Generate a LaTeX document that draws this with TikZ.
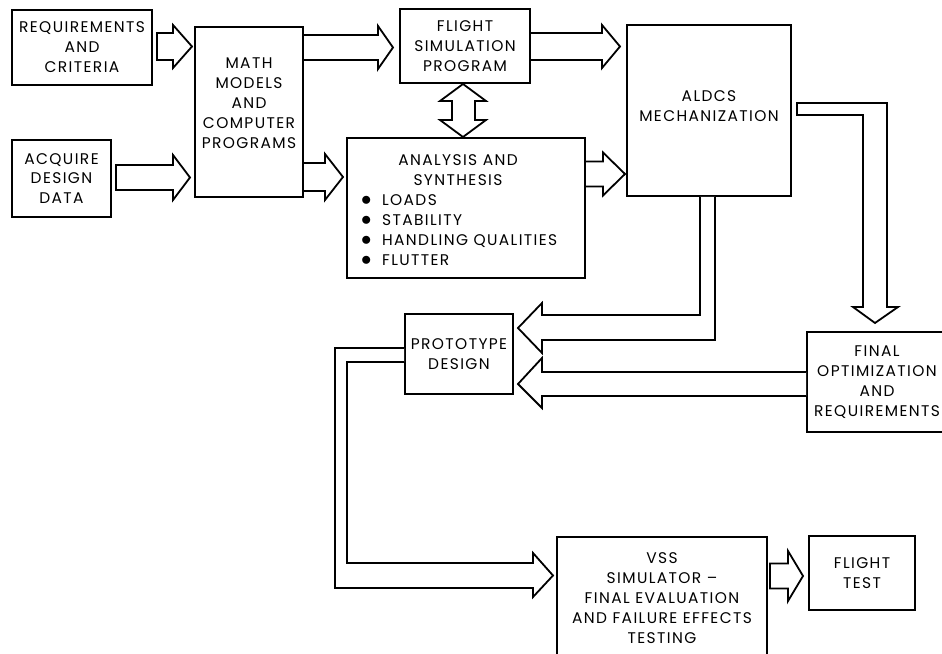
\documentclass[tikz,border=0pt]{standalone}
\usepackage{fontspec}
\setmainfont{Poppins}[LetterSpace=9]
\usetikzlibrary{calc}
\tikzset{
  box/.style={draw, line width=1.8bp, rectangle, inner sep=0pt},
  lbl/.style={align=center, font=\fontsize{15.5}{20}\selectfont, inner sep=0pt},
  blk/.style={draw, line width=1.8bp, line join=miter, fill=white},
}
\newcommand\bul{\smash{\scalebox{1.45}{$\bullet$}}\hspace{10.5bp}}
% right-pointing block arrow: tail x, tip x, centre y, body half, head half, head length
\newcommand\rarr[6]{%
  \draw[blk] (#1,#3-#4) -- (#2-#6,#3-#4) -- (#2-#6,#3-#5) -- (#2,#3)
    -- (#2-#6,#3+#5) -- (#2-#6,#3+#4) -- (#1,#3+#4) -- cycle;}
\begin{document}
\begin{tikzpicture}[x=1bp,y=-1bp]
\useasboundingbox (0,0) rectangle (942,654);

% boxes
\node[box,lbl,minimum width=140bp,minimum height=75bp] (req) at (82,47.5) {REQUIREMENTS\\AND\\CRITERIA};
\node[box,lbl,minimum width=99bp,minimum height=77bp] (acq) at (61.5,178.5) {ACQUIRE\\DESIGN\\DATA};
\node[box,minimum width=108bp,minimum height=170bp] (math) at (249,112) {};
\node[lbl] (mathtxt) at (249,103) {MATH\\MODELS\\AND\\COMPUTER\\PROGRAMS};
\node[box,lbl,minimum width=130bp,minimum height=74bp] (fs) at (465,46) {FLIGHT\\SIMULATION\\PROGRAM};
\node[box,minimum width=238bp,minimum height=140bp] (an) at (466,208) {};
\node[lbl] (antitle) at (458,170) {ANALYSIS AND\\SYNTHESIS};
\node[lbl,align=left,anchor=west] (anlist) at (361,230) {\bul LOADS\\\bul STABILITY\\\bul HANDLING QUALITIES\\\bul FLUTTER};
\node[box,minimum width=164bp,minimum height=171bp] (aldcs) at (709,110.5) {};
\node[lbl] (aldcstxt) at (709,106) {ALDCS\\MECHANIZATION};
\node[box,lbl,minimum width=108bp,minimum height=80bp] (proto) at (459,354) {PROTOTYPE\\DESIGN};
\node[box,lbl,minimum width=140bp,minimum height=100bp] (final) at (877,382) {FINAL\\OPTIMIZATION\\AND\\REQUIREMENTS};
\node[box,minimum width=210bp,minimum height=123bp] (vss) at (662,598.5) {};
\node[lbl] (vsstxt) at (662,598) {VSS\\SIMULATOR --\\FINAL EVALUATION\\AND FAILURE EFFECTS\\TESTING};
\node[box,lbl,minimum width=106bp,minimum height=74bp] (ft) at (862,573) {FLIGHT\\TEST};

% straight block arrows
\rarr{157}{192}{46.5}{13.5}{21.5}{19}
\rarr{116}{190}{177.5}{12.5}{22.5}{17}
\rarr{303}{393}{47.5}{12.5}{21.5}{15}
\rarr{303}{343}{177}{14}{23}{18}
\rarr{530}{620}{46.5}{13.5}{21.5}{18}
\rarr{585}{625}{174}{12.5}{21.5}{22}
\rarr{770}{803}{576}{12.5}{25}{15}

% double arrow FS <-> analysis
\draw[blk] (463,84) -- (486,101) -- (475,101) -- (475,120) -- (486,120) -- (463,137)
  -- (440,120) -- (452,120) -- (452,101) -- (440,101) -- cycle;

% ALDCS -> final (elbow)
\draw[blk] (797,103) -- (887,103) -- (887,307) -- (898,307) -- (875,323) -- (853,307)
  -- (863,307) -- (863,115) -- (797,115) -- cycle;

% ALDCS -> prototype
\draw[blk] (aldcs.south -| 700,0) -- (700,315) -- (542,315) -- (542,303) -- (518,328)
  -- (542,353) -- (542,340) -- (715,340) -- (aldcs.south -| 715,0);

% final -> prototype
\draw[blk] (final.west |- 0,372) -- (542,372) -- (542,358) -- (518,384) -- (542,408)
  -- (542,396) -- (final.west |- 0,396);

% prototype -> VSS
\draw[blk] (proto.west |- 0,348) -- (335,348) -- (335,588) -- (533,588) -- (533,597)
  -- (553,575.5) -- (533,553) -- (533,563) -- (347,563) -- (347,362) -- (proto.west |- 0,362);
\end{tikzpicture}
\end{document}
